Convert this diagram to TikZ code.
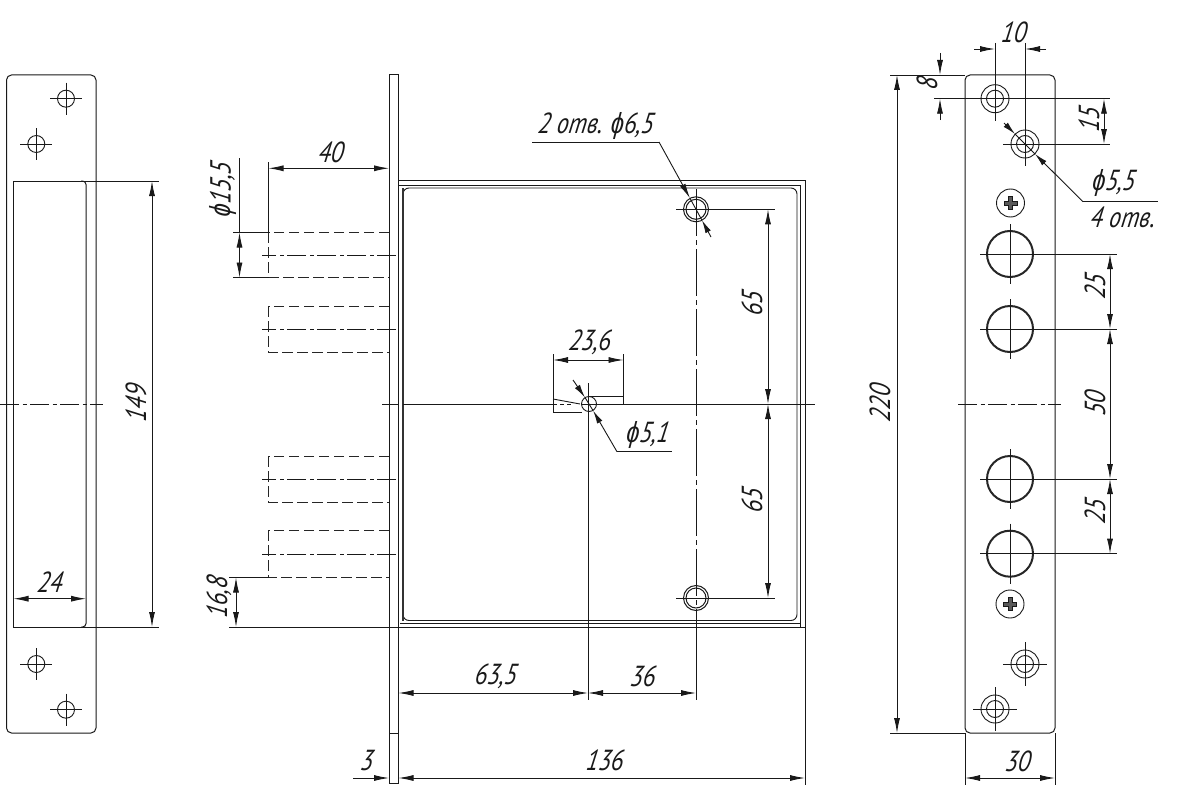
\documentclass[tikz,border=0pt]{standalone}
\usepackage{fontspec}
\usetikzlibrary{arrows.meta}
\setmainfont[ItalicFeatures={FakeStretch=0.82,FakeSlant=0.14}]{PT Sans}
\newfontfamily\phifont[ItalicFeatures={FakeStretch=0.8,FakeSlant=0.1}]{Liberation Sans}
\newcommand{\dia}{{\phifont\itshape ϕ}}
\tikzset{
  x=1pt,y=-1pt,
  main/.style={draw=black!90,line width=1pt},
  heavy/.style={draw=black!85,line width=2pt},
  thin line/.style={draw=black!90,line width=.9pt},
  hidden/.style={draw=black!85,line width=1.1pt,dash pattern=on 10.5pt off 4.5pt},
  axis/.style={draw=black!90,line width=.9pt,dash pattern=on 19pt off 3.5pt on 4pt off 3.5pt},
  axis long/.style={draw=black!90,line width=1pt,dash pattern=on 47pt off 4pt on 5pt off 4pt},
  dimtip/.tip={Latex[length=15pt,width=6pt]},
  shorttip/.tip={Latex[length=13pt,width=6pt]},
  dimboth/.style={thin line,{dimtip}-{dimtip}},
  dimend/.style={thin line,-{dimtip}},
  dimshort/.style={thin line,-{shorttip}},
  dimtext/.style={font=\fontsize{29}{29}\selectfont\itshape,inner sep=0pt,text=black!90},
  dimtextv/.style={dimtext,rotate=90},
}
\newcommand{\holemark}[3]{% centre x, y, radius
  \draw[thin line] (#1,#2) circle[radius=#3pt];
  \draw[thin line] (#1-16,#2) -- (#1+16,#2) (#1,#2-16) -- (#1,#2+16);}
\newcommand{\csink}[2]{%
  \draw[thin line] (#1,#2) circle[radius=14pt] (#1,#2) circle[radius=8.5pt];
  \draw[thin line] (#1-22,#2) -- (#1+22,#2) (#1,#2-22) -- (#1,#2+22);}
\newcommand{\bighole}[2]{%
  \draw[heavy] (#1,#2) circle[radius=23pt];
  \draw[thin line] (#1-30,#2) -- (#1+30,#2) (#1,#2-30) -- (#1,#2+30);}
\newcommand{\screwhead}[2]{%
  \draw[thin line] (#1,#2) circle[radius=14pt];
  \draw[black!90,line width=1pt,fill=black!65]
    (#1-6.5,#2-2) -- (#1-2,#2-2) -- (#1-2,#2-6.5) -- (#1+2,#2-6.5) -- (#1+2,#2-2)
    -- (#1+6.5,#2-2) -- (#1+6.5,#2+2) -- (#1+2,#2+2) -- (#1+2,#2+6.5) -- (#1-2,#2+6.5)
    -- (#1-2,#2+2) -- (#1-6.5,#2+2) -- cycle;}
\newcommand{\boltpin}[2]{% top y, bottom y
  \draw[hidden] (389,#1) -- (268.5,#1) -- (268.5,#2) -- (389,#2);
  \draw[axis] (396,{(#1+#2)/2}) -- (262,{(#1+#2)/2});}
\begin{document}
\begin{tikzpicture}
\useasboundingbox (0,0) rectangle (1200,800);
\fill[white] (0,0) rectangle (1200,800);

% ---------- left strike plate
\draw[main,rounded corners=5pt] (6.5,75) rectangle (96,733);
\draw[main] (84,181) -- (13.5,181) -- (13.5,627) -- (84,627);
\draw[main,rounded corners=3.5pt] (81,181) -- (86,181) -- (86,627) -- (81,627);
\holemark{66}{98.7}{8.5}
\holemark{36.3}{144}{8.5}
\holemark{36.3}{664}{8.5}
\holemark{66}{709.7}{8.5}
\draw[axis] (0,404) -- (103,404);
\draw[thin line] (84,181) -- (159,181) (84,627) -- (159,627);
\draw[dimboth] (152,181) -- (152,627);
\node[dimtextv] (t149) at (136,404) {149};
\draw[dimboth] (13.5,598.7) -- (86,598.7);
\node[dimtext] (t24) at (49,582) {24};

% ---------- lock body
\draw[main] (389,75) rectangle (398.5,783);
\draw[thin line] (389,733) -- (398.5,733);
\draw[main] (398.5,180.7) -- (805,180.7) -- (805,627);
\draw[main] (398.5,185.5) -- (800,185.5) -- (800,627);
\draw[thin line,rounded corners=6pt] (403,188) -- (797,188) -- (797,620.5) -- (403,620.5) -- cycle;
\draw[draw=black!80,line width=1.6pt] (403,188) -- (403,620.5);
\draw[main] (400,623) -- (800,623);
\draw[thin line] (229,627) -- (805,627);

\boltpin{232.5}{277.5}
\boltpin{306.5}{352.5}
\boltpin{456.5}{502.5}
\boltpin{530.5}{577.5}

% centre line
\draw[thin line] (382,404) -- (398.5,404);
\draw[thin line] (403,404) -- (553,404);
\draw[thin line,dash pattern=on 4pt off 3pt] (553,404) -- (572,404);
\draw[thin line] (581,404) -- (815,404);

% bolt dimensions
\draw[thin line] (268.5,162) -- (268.5,232.5);
\draw[dimboth] (268.5,168.3) -- (389,168.3);
\node[dimtext] (t40) at (330,152) {40};
\draw[thin line] (233,232.5) -- (268.5,232.5) (233,277.5) -- (268.5,277.5);
\draw[thin line] (239.5,158) -- (239.5,232.5);
\draw[dimboth] (239.5,232.5) -- (239.5,277.5);
\node[dimtextv] (t155) at (223,190) {\dia15,5};
\draw[thin line] (229,577.5) -- (268.5,577.5);
\draw[dimboth] (236,577.5) -- (236,627);
\node[dimtextv] (t168) at (219,598) {16,8};

% mounting holes
\draw[main] (696,209.3) circle[radius=12.5pt] (696,209.3) circle[radius=10pt];
\draw[main] (696,598) circle[radius=12.5pt] (696,598) circle[radius=10pt];
\draw[axis long] (696,189) -- (696,612);
\draw[thin line] (676,209.3) -- (775,209.3) (676,598) -- (775,598);
\draw[dimboth] (768,209.3) -- (768,404);
\draw[dimboth] (768,404) -- (768,598);
\node[dimtextv] (t65a) at (752,304) {65};
\node[dimtextv] (t65b) at (752,501) {65};
\draw[thin line] (532,142) -- (659,142);
\draw[dimend] (659,142) -- (690,198.3);
\draw[thin line] (690,198.3) -- (702,220.3);
\draw[dimshort] (711,237) -- (702,220.3);
\node[dimtext] (thole) at (595,126) {2 отв. \dia6,5};

% keyhole
\draw[main] (553,404) -- (553,412) -- (582,412);
\draw[main] (589,396) -- (623.5,396) -- (623.5,404);
\draw[thin line] (553,399) -- (580,404);
\draw[thin line] (589,404) circle[radius=7.5pt];
\draw[thin line] (553,354) -- (553,404) (623.5,354) -- (623.5,396);
\draw[dimboth] (553,360) -- (623.5,360);
\node[dimtext] (t236) at (589,342) {23,6};
\draw[thin line] (588,383) -- (588,700);
\draw[dimshort] (573,380) -- (584.8,397.2);
\draw[thin line] (584.8,397.2) -- (593.2,410.8);
\draw[dimshort] (617,451.7) -- (593.2,410.8);
\draw[thin line] (617,451.7) -- (672,451.7);
\node[dimtext] (t51) at (647,435) {\dia5,1};

% bottom dimensions
\draw[thin line] (696,612) -- (696,700);
\draw[thin line] (805,627) -- (805,785);
\draw[dimboth] (398.5,693) -- (588,693);
\draw[dimboth] (588,693) -- (696,693);
\node[dimtext] (t635) at (495,676) {63,5};
\node[dimtext] (t36) at (642,676) {36};
\draw[dimend] (353,778) -- (389,778);
\draw[dimboth] (398.5,778) -- (805,778);
\node[dimtext] (t3) at (366,761) {3};
\node[dimtext] (t136) at (604,760) {136};

% ---------- right face plate
\draw[main,rounded corners=5pt] (965,75) rectangle (1055,733);
\csink{995}{98.7}
\csink{1025}{144}
\csink{1025}{664}
\csink{995}{709}
\screwhead{1010.5}{203}
\screwhead{1010}{604}
\bighole{1010}{254}
\bighole{1010}{329}
\bighole{1010}{479}
\bighole{1010}{553.7}
\draw[axis] (958,404) -- (1061,404);

\draw[thin line] (1010,254) -- (1117,254) (1010,329) -- (1117,329)
  (1010,479) -- (1117,479) (1010,553.7) -- (1117,553.7);
\draw[dimboth] (1110,254) -- (1110,329);
\draw[dimboth] (1110,329) -- (1110,479);
\draw[dimboth] (1110,479) -- (1110,553.7);
\node[dimtextv] (t25a) at (1095,287) {25};
\node[dimtextv] (t50) at (1095,404) {50};
\node[dimtextv] (t25b) at (1095,512) {25};

\draw[thin line] (934,98.7) -- (1110,98.7) (1003,144) -- (1110,144);
\draw[dimboth] (1104,98.7) -- (1104,144);
\node[dimtextv] (t15) at (1089,120) {15};
\draw[thin line] (890,75) -- (965,75) (890,733) -- (965,733);
\draw[dimend] (940,53) -- (940,75);
\draw[dimend] (940,120) -- (940,98.7);
\node[dimtextv] (t8) at (927,84) {8};
\draw[dimboth] (897,75) -- (897,733);
\node[dimtextv] (t220) at (880,404) {220};
\draw[thin line] (995,43) -- (995,120) (1025,43) -- (1025,165);
\draw[dimend] (974,49) -- (995,49);
\draw[dimend] (1046,49) -- (1025,49);
\node[dimtext] (t10) at (1013,32) {10};

\draw[dimshort] (1004,123) -- (1015,134);
\draw[thin line] (1015,134) -- (1035,154);
\draw[dimshort] (1083,201.7) -- (1035,154);
\draw[thin line] (1083,201.7) -- (1158,201.7);
\node[dimtext] (t55) at (1113,183) {\dia5,5};
\node[dimtext] (t4) at (1122,217) {4 отв.};

\draw[thin line] (965,733) -- (965,785) (1055,733) -- (1055,785);
\draw[dimboth] (965,778) -- (1055,778);
\node[dimtext] (t30) at (1017,761) {30};
\end{tikzpicture}
\end{document}
